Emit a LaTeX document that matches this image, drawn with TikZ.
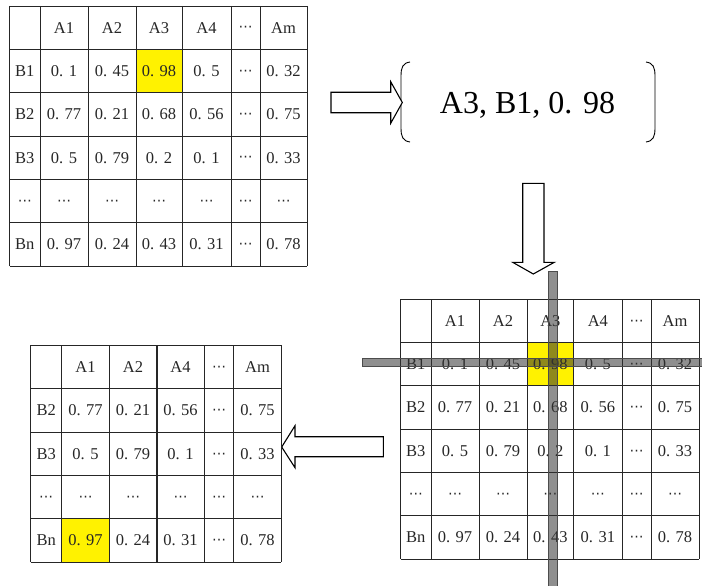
\documentclass[tikz,border=0pt]{standalone}
\usepackage{fontspec}
\setmainfont{Liberation Serif}
\newfontfamily\djv{DejaVu Sans}
\newcommand\dd{\raisebox{-4.3pt}[0pt][0pt]{\djv\fontsize{14}{14}\selectfont ⋯}}
\tikzset{
  cell/.style={font=\fontsize{16.5}{16.5}\selectfont, text=black!85, inner sep=0pt, anchor=center},
  grid/.style={line width=0.9pt, black!85},
  hl/.style={fill=yellow},
  blockarrow/.style={draw=black, fill=white, line width=1.1pt, line join=miter},
  bar/.style={fill=black!80, fill opacity=0.55, draw=black!70, line width=0.8pt},
  bracket/.style={draw=black, line width=0.9pt}
}
\begin{document}
\begin{tikzpicture}[x=1pt,y=-1pt]
\useasboundingbox (0,0) rectangle (702,586);

% ---------- Table A (top left) ----------
\fill[hl] (136,49.33) rectangle (182,92.67);
\foreach \xx in {9.5,40,88,136,182,231,260,307}
  \draw[grid] (\xx,6) -- (\xx,266);
\foreach \yy in {6,49.33,92.67,136,179.33,222.67,266}
  \draw[grid] (9.5,\yy) -- (307,\yy);
\foreach \row [count=\ri from 0] in {
  {{},A1,A2,A3,A4,\dd,Am},
  {B1,0. 1,0. 45,0. 98,0. 5,\dd,0. 32},
  {B2,0. 77,0. 21,0. 68,0. 56,\dd,0. 75},
  {B3,0. 5,0. 79,0. 2,0. 1,\dd,0. 33},
  {\dd,\dd,\dd,\dd,\dd,\dd,\dd},
  {Bn,0. 97,0. 24,0. 43,0. 31,\dd,0. 78}}{
  \foreach \txt [count=\ci from 0] in \row {
    \pgfmathsetmacro\cx{{24.75,64,112,159,206.5,245.5,283.5}[\ci]}
    \node[cell] (ta-\ri-\ci) at (\cx, 27.67+43.33*\ri) {\txt};
  }
}

% ---------- Result ----------
\node[font=\fontsize{32}{32}\selectfont, anchor=base, inner sep=0pt] (res) at (527.5,113.3) {A3, B1, 0. 98};
\draw[bracket] (410,62) .. controls (403,63) and (401,67) .. (401,76) -- (401,128) .. controls (401,137) and (403,141) .. (410,142);
\draw[bracket] (646,62) .. controls (653,63) and (655,67) .. (655,76) -- (655,128) .. controls (655,137) and (653,141) .. (646,142);

% ---------- Arrows ----------
\draw[blockarrow] (331,92.3) -- (390.7,92.3) -- (390.7,81.7) -- (402.3,102.5) -- (390.7,123.3) -- (390.7,112.7) -- (331,112.7) -- cycle;
\draw[blockarrow] (522.7,183.3) -- (544,183.3) -- (544,262.3) -- (554.3,262.3) -- (533.3,274) -- (512.7,262.3) -- (522.7,262.3) -- cycle;
\draw[blockarrow] (383.3,436.7) -- (295,436.7) -- (295,425.7) -- (281.7,447) -- (295,467.7) -- (295,456.7) -- (383.3,456.7) -- cycle;

% ---------- Table B (bottom right) ----------
\fill[hl] (527,342.58) rectangle (573.7,385.86);
\foreach \xx in {400.7,431,479,527,573.7,622,651,699}
  \draw[grid] (\xx,299.3) -- (\xx,559);
\foreach \yy in {299.3,342.58,385.86,429.14,472.42,515.7,559}
  \draw[grid] (400.7,\yy) -- (699,\yy);
\foreach \row [count=\ri from 0] in {
  {{},A1,A2,A3,A4,\dd,Am},
  {B1,0. 1,0. 45,0. 98,0. 5,\dd,0. 32},
  {B2,0. 77,0. 21,0. 68,0. 56,\dd,0. 75},
  {B3,0. 5,0. 79,0. 2,0. 1,\dd,0. 33},
  {\dd,\dd,\dd,\dd,\dd,\dd,\dd},
  {Bn,0. 97,0. 24,0. 43,0. 31,\dd,0. 78}}{
  \foreach \txt [count=\ci from 0] in \row {
    \pgfmathsetmacro\cx{{415.85,455,503,550.35,597.85,636.5,675}[\ci]}
    \node[cell] (tb-\ri-\ci) at (\cx, 320.94+43.28*\ri) {\txt};
  }
}
% crossing bars
\draw[bar] (548.5,271) rectangle (557,590);
\draw[bar] (362,358.3) rectangle (706,366.7);

% ---------- Table C (bottom left) ----------
\fill[hl] (61.7,518.9) rectangle (109.3,562.3);
\foreach \xx in {30.7,61.7,109.3,204.3,233.7,281.3}
  \draw[grid] (\xx,345.3) -- (\xx,562.3);
\draw[grid, line width=1.6pt] (156.7,345.3) -- (156.7,562.3);
\foreach \yy in {345.3,388.7,432.1,475.5,518.9,562.3}
  \draw[grid] (30.7,\yy) -- (281.3,\yy);
\foreach \row [count=\ri from 0] in {
  {{},A1,A2,A4,\dd,Am},
  {B2,0. 77,0. 21,0. 56,\dd,0. 75},
  {B3,0. 5,0. 79,0. 1,\dd,0. 33},
  {\dd,\dd,\dd,\dd,\dd,\dd},
  {Bn,0. 97,0. 24,0. 31,\dd,0. 78}}{
  \foreach \txt [count=\ci from 0] in \row {
    \pgfmathsetmacro\cx{{46.2,85.5,133,180.5,219,257.5}[\ci]}
    \node[cell] (tc-\ri-\ci) at (\cx, 367+43.4*\ri) {\txt};
  }
}
\end{tikzpicture}
\end{document}
